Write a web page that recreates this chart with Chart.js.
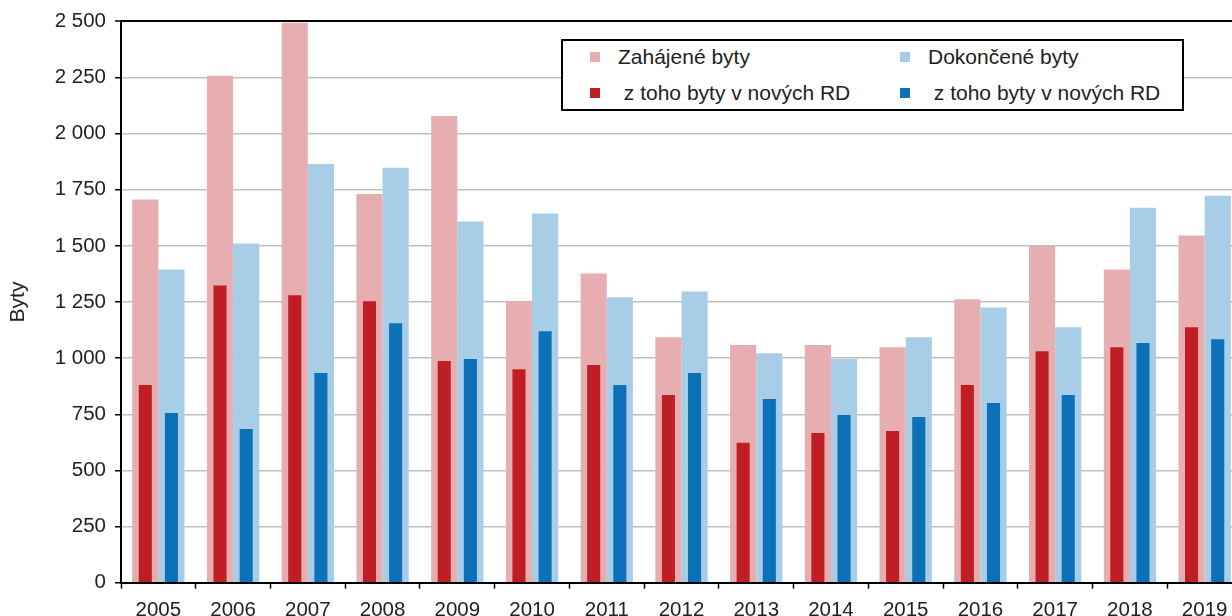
<!DOCTYPE html>
<html lang="cs">
<head>
<meta charset="utf-8">
<title>Byty</title>
<script src="https://cdn.jsdelivr.net/npm/chart.js@4.4.1/dist/chart.umd.min.js"></script>
<style>
  html, body { margin: 0; padding: 0; background: #fff; overflow: hidden; }
  #wrap { position: relative; width: 1242px; height: 616px; }
  #legend {
    position: absolute; left: 561px; top: 39px; width: 623px; height: 72px;
    box-sizing: border-box; border: 2px solid #000; background: #fff;
    font-family: "Liberation Sans", Arial, sans-serif; font-size: 21px; color: #222;
  }
  .lg-item { position: absolute; white-space: pre; line-height: 24px; }
  .lg-box { position: absolute; width: 10px; height: 10px; }
</style>
</head>
<body>
<div id="wrap">
  <canvas id="c" width="1242" height="616"></canvas>
  <div id="legend"></div>
</div>
<script>
const years = ['2005','2006','2007','2008','2009','2010','2011','2012','2013','2014','2015','2016','2017','2018','2019'];
const zahajeneByty = [1706, 2257, 2494, 1731, 2078, 1253, 1377, 1093, 1058, 1058, 1049, 1262, 1501, 1395, 1546];
const zahajeneRD   = [ 880, 1324, 1280, 1253,  987,  951,  969,  836,  623,  667,  676,  880, 1031, 1049, 1138];
const dokonceneByty = [1395, 1510, 1865, 1848, 1608, 1644, 1271, 1297, 1022,  996, 1093, 1226, 1138, 1670, 1723];
const dokonceneRD   = [ 756,  685,  934, 1155,  996, 1120,  880,  934,  818,  747,  738,  800,  836, 1067, 1084];
const yTicks = [0, 250, 500, 750, 1000, 1250, 1500, 1750, 2000, 2250, 2500];

const FONT = '"Liberation Sans", Arial, sans-serif';
const TXT = '#222';

function fmt(v) {
  return String(v).replace(/\B(?=(\d{3})+(?!\d))/g, ' ');
}

const chart = new Chart(document.getElementById('c'), {
  type: 'bar',
  data: {
    labels: years,
    datasets: [
      { label: 'Zahájené byty', data: zahajeneByty, backgroundColor: '#E7AEB1', stack: 'Z', order: 1,
        categoryPercentage: 0.7, barPercentage: 1.0, lgCol: 0, lgRow: 0 },
      { label: 'Dokončené byty', data: dokonceneByty, backgroundColor: '#A8CEE7', stack: 'D', order: 1,
        categoryPercentage: 0.7, barPercentage: 1.0, lgCol: 1, lgRow: 0 },
      { label: ' z toho byty v nových RD', data: zahajeneRD, backgroundColor: '#BE1E24', stack: 'Z', order: 0,
        categoryPercentage: 0.7, barPercentage: 0.5, lgCol: 0, lgRow: 1 },
      { label: ' z toho byty v nových RD', data: dokonceneRD, backgroundColor: '#0D71B8', stack: 'D', order: 0,
        categoryPercentage: 0.7, barPercentage: 0.5, lgCol: 1, lgRow: 1 }
    ]
  },
  options: {
    responsive: false,
    devicePixelRatio: 1,
    animation: false,
    layout: { padding: { top: 19.3, left: 0, right: 0, bottom: 0 } },
    plugins: { legend: { display: false }, tooltip: { enabled: false } },
    scales: {
      x: {
        type: 'category',
        stacked: true,
        offset: true,
        grid: { display: true, offset: true, drawOnChartArea: false, drawTicks: true,
                tickLength: 6, tickColor: '#000', tickWidth: 1.5 },
        border: { color: '#000', width: 2 },
        ticks: { font: { family: FONT, size: 20.5 }, color: TXT, padding: 9, maxRotation: 0, autoSkip: false },
        afterFit(s) { s.height = 33.3; }
      },
      y: {
        stacked: false,
        min: 0, max: 2500,
        afterBuildTicks(s) { s.ticks = yTicks.map(v => ({ value: v })); },
        ticks: { font: { family: FONT, size: 20.5 }, color: TXT, padding: 9,
                 callback: (v) => fmt(v) },
        grid: {
          color: (ctx) => ctx.tick && ctx.tick.value === 2500 ? '#000' : '#C0C0C0',
          lineWidth: (ctx) => ctx.tick && ctx.tick.value === 2500 ? 2 : 1.5,
          tickColor: '#000', tickLength: 6, tickWidth: 1.5
        },
        border: { color: '#000', width: 2 },
        title: { display: true, text: 'Byty', font: { family: FONT, size: 21 }, color: TXT,
                 padding: { top: 6, bottom: 0 } },
        afterFit(s) { s.width = 121; }
      }
    }
  }
});

// HTML legend built from the chart's datasets
const lg = document.getElementById('legend');
const colX = [27, 337];   // marker left within box
const rowY = [11, 47];    // marker top within box
chart.data.datasets.forEach(ds => {
  const box = document.createElement('div');
  box.className = 'lg-box';
  box.style.background = ds.backgroundColor;
  box.style.left = colX[ds.lgCol] + 'px';
  box.style.top = rowY[ds.lgRow] + 'px';
  lg.appendChild(box);
  const t = document.createElement('div');
  t.className = 'lg-item';
  t.textContent = ds.label;
  t.style.left = (colX[ds.lgCol] + 28) + 'px';
  t.style.top = (rowY[ds.lgRow] - 7) + 'px';
  lg.appendChild(t);
});
</script>
</body>
</html>
